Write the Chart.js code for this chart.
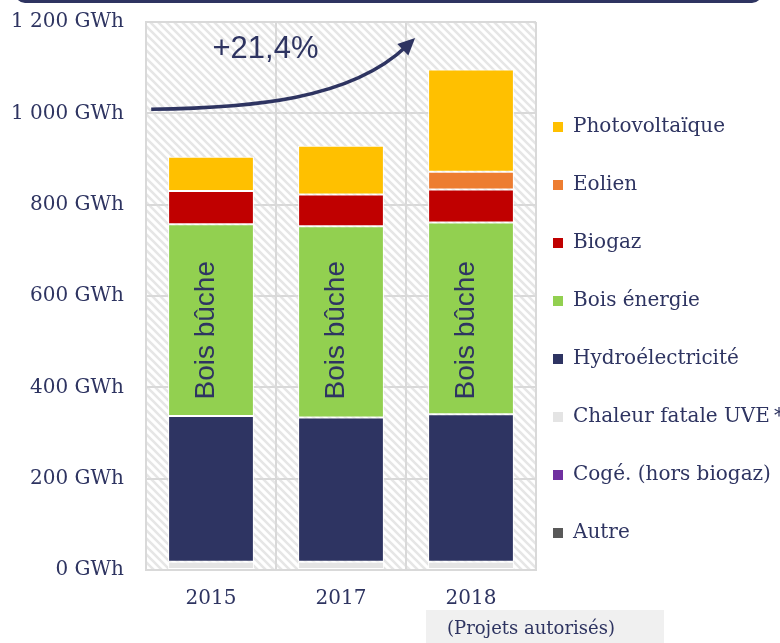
<!DOCTYPE html>
<html lang="fr">
<head>
<meta charset="utf-8">
<title>Production renouvelable</title>
<script src="https://cdn.jsdelivr.net/npm/chart.js@4.4.1/dist/chart.umd.min.js"></script>
<style>
  html, body { margin: 0; padding: 0; background: #fff; }
  #wrap { position: relative; width: 780px; height: 643px; overflow: hidden; }
  #topline { position: absolute; left: 15px; top: -20px; width: 747px; height: 23px; box-sizing: border-box; border: 3px solid #2e3461; border-radius: 10px; }
  canvas { position: absolute; left: 0; top: 0; }
</style>
</head>
<body>
<div id="wrap">
  <canvas id="chart" width="780" height="643"></canvas>
  <div id="topline"></div>
</div>
<script>
const years = ['2015', '2017', '2018'];
const yearNotes = ['', '', '(Projets autorisés)'];
const yTickLabels = ['0 GWh', '200 GWh', '400 GWh', '600 GWh', '800 GWh', '1 000 GWh', '1 200 GWh'];

// GWh par filière, bas de la pile en premier
const autre = [0, 0, 0];
const cogeHorsBiogaz = [0, 0, 0];
const chaleurFataleUVE = [18, 18, 18];
const hydro = [319, 316, 323];
const boisEnergie = [420, 419, 420];
const biogaz = [73, 69, 72];
const eolien = [0, 0, 39];
const photovoltaique = [75, 107, 224];

const growthLabel = '+21,4%';
const growthAt = [0, 1140];          // [category, GWh] left edge of the text
const boisLabel = 'Bois bûche';
const boisLabelAt = 525;             // GWh, centre of the rotated label
// arrow: [category, GWh] start, control 1, control 2, tip
const arrowPath = [[-0.46, 1009], [0.30, 1012], [1.07, 1029], [1.57, 1165]];

const NAVY = '#2e3461';
const GRID = '#d9d9d9';

Chart.defaults.font.family = '"DejaVu Serif", serif';
Chart.defaults.color = NAVY;

function hatchPattern(ctx) {
    const tile = document.createElement('canvas');
    tile.width = 8; tile.height = 8;
    const t = tile.getContext('2d');
    t.fillStyle = '#ffffff';
    t.fillRect(0, 0, 8, 8);
    t.strokeStyle = '#e6e6e6';
    t.lineWidth = 2.6;
    t.beginPath();
    t.moveTo(-2, -2); t.lineTo(10, 10);
    t.moveTo(-10, -2); t.lineTo(2, 10);
    t.moveTo(6, -2); t.lineTo(18, 10);
    t.stroke();
    return ctx.createPattern(tile, 'repeat');
}

// Hatched plot background, rotated labels, growth arrow and the note under 2018
const decorations = {
    id: 'decorations',
    beforeDraw(chart) {
        const { ctx, chartArea: a } = chart;
        ctx.save();
        ctx.fillStyle = hatchPattern(ctx);
        ctx.fillRect(a.left, a.top, a.right - a.left, a.bottom - a.top);
        ctx.restore();
    },
    afterDatasetsDraw(chart) {
        const { ctx, scales: { x, y } } = chart;
        const boisIndex = chart.data.datasets.findIndex(d => d.label === 'Bois énergie');
        const meta = chart.getDatasetMeta(boisIndex);

        ctx.save();
        ctx.fillStyle = NAVY;
        ctx.font = '28px "Liberation Sans", Arial, sans-serif';
        ctx.textAlign = 'center';
        ctx.textBaseline = 'alphabetic';
        meta.data.forEach(bar => {
            ctx.save();
            ctx.translate(bar.x + 3, y.getPixelForValue(boisLabelAt));
            ctx.rotate(-Math.PI / 2);
            ctx.fillText(boisLabel, 0, 0);
            ctx.restore();
        });

        const step = x.getPixelForValue(1) - x.getPixelForValue(0);
        const toPx = ([c, v]) => [x.getPixelForValue(0) + c * step, y.getPixelForValue(v)];

        // growth text
        const [gx, gy] = toPx(growthAt);
        ctx.font = '31px "Liberation Sans", Arial, sans-serif';
        ctx.textAlign = 'left';
        ctx.textBaseline = 'middle';
        ctx.fillText(growthLabel, gx + 1.5, gy);

        // curved arrow
        const [p0, p1, p2, tip] = arrowPath.map(toPx);
        let dx = tip[0] - p2[0], dy = tip[1] - p2[1];
        const len = Math.hypot(dx, dy);
        dx /= len; dy /= len;
        const end = [tip[0] - dx * 12, tip[1] - dy * 12];
        ctx.strokeStyle = NAVY;
        ctx.lineWidth = 3.5;
        ctx.beginPath();
        ctx.moveTo(p0[0], p0[1]);
        ctx.bezierCurveTo(p1[0], p1[1], p2[0], p2[1], end[0], end[1]);
        ctx.stroke();
        const bx = tip[0] - dx * 17, by = tip[1] - dy * 17;
        ctx.beginPath();
        ctx.moveTo(tip[0], tip[1]);
        ctx.lineTo(bx - dy * 8, by + dx * 8);
        ctx.lineTo(bx + dy * 8, by - dx * 8);
        ctx.closePath();
        ctx.fill();
        ctx.restore();
    },
    afterDraw(chart) {
        const { ctx, chartArea: a, scales: { x } } = chart;
        ctx.save();
        yearNotes.forEach((note, i) => {
            if (!note) return;
            const px = x.getPixelForValue(i);
            ctx.fillStyle = '#f0f0f0';
            ctx.fillRect(px - 45, a.bottom + 40, 238, 40);
            ctx.fillStyle = NAVY;
            ctx.font = '18px "DejaVu Serif", serif';
            ctx.textAlign = 'left';
            ctx.textBaseline = 'middle';
            ctx.fillText(note, px - 24, a.bottom + 59);
        });
        ctx.restore();
    }
};

new Chart(document.getElementById('chart'), {
    type: 'bar',
    data: {
        labels: years,
        datasets: [
            { label: 'Autre', data: autre, backgroundColor: '#595959' },
            { label: 'Cogé. (hors biogaz)', data: cogeHorsBiogaz, backgroundColor: '#7030a0' },
            { label: 'Chaleur fatale UVE\u2009*', data: chaleurFataleUVE, backgroundColor: '#e4e4e4' },
            { label: 'Hydroélectricité', data: hydro, backgroundColor: '#2e3462' },
            { label: 'Bois énergie', data: boisEnergie, backgroundColor: '#92d050' },
            { label: 'Biogaz', data: biogaz, backgroundColor: '#c00000' },
            { label: 'Eolien', data: eolien, backgroundColor: '#ed7d31' },
            { label: 'Photovoltaïque', data: photovoltaique, backgroundColor: '#ffc000' }
        ]
    },
    options: {
        responsive: false,
        animation: false,
        layout: { padding: { left: 11, right: -4, top: 22, bottom: 0 } },
        datasets: {
            bar: {
                barPercentage: 0.66,
                categoryPercentage: 1,
                borderWidth: 1,
                borderColor: '#ffffff',
                borderSkipped: false
            }
        },
        scales: {
            x: {
                stacked: true,
                grid: { color: GRID, lineWidth: 2, drawTicks: false, offset: true },
                border: { color: GRID, width: 2 },
                ticks: { padding: 17, color: NAVY, font: { size: 20 } },
                afterFit(scale) { scale.height = 73; }
            },
            y: {
                stacked: true,
                min: 0,
                max: 1200,
                grid: { color: GRID, lineWidth: 2, drawTicks: false },
                border: { color: GRID, width: 2 },
                ticks: {
                    stepSize: 200,
                    padding: 22,
                    color: NAVY,
                    font: { size: 20 },
                    callback: v => yTickLabels[Math.round(v / 200)]
                },
                afterFit(scale) {
                    scale.width = 135;
                    scale.paddingTop = 0;
                    scale.paddingBottom = 0;
                }
            }
        },
        plugins: {
            tooltip: { enabled: false },
            legend: {
                position: 'right',
                align: 'center',
                reverse: true,
                maxWidth: 248,
                title: { display: true, text: '', font: { size: 16, lineHeight: 1 }, padding: 0 },
                labels: {
                    boxWidth: 10,
                    boxHeight: 10,
                    padding: 17,
                    color: NAVY,
                    font: { size: 20, lineHeight: 2.05 },
                    // one-line arrays so the row height follows font.lineHeight
                    generateLabels(chart) {
                        return Chart.defaults.plugins.legend.labels.generateLabels(chart)
                            .map(l => ({ ...l, text: [l.text], lineWidth: 0 }));
                    }
                }
            }
        }
    },
    plugins: [decorations]
});
</script>
</body>
</html>
